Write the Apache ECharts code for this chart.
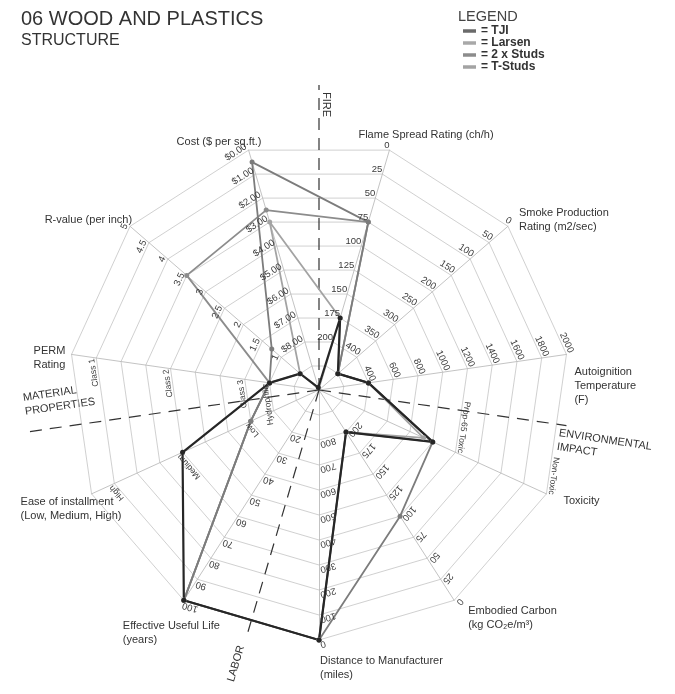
<!DOCTYPE html>
<html>
<head>
<meta charset="utf-8">
<script src="https://cdn.jsdelivr.net/npm/echarts@6/dist/echarts.min.js"></script>
<style>
html, body { margin: 0; padding: 0; background: #fff; }
#chart { width: 675px; height: 694px; }
</style>
</head>
<body>
<div id="chart"></div>
<script>
// axes in radar order (first one at the bottom, then counter-clockwise)
var axisNames = [
	'Distance to Manufacturer\n(miles)',
	'Embodied Carbon\n(kg CO\u2082e/m\u00b3)',
	'Toxicity',
	'Autoignition\nTemperature\n(F)',
	'Smoke Production\nRating (m2/sec)',
	'Flame Spread Rating (ch/h)',
	'Cost ($ per sq.ft.)',
	'R-value (per inch)',
	'PERM\nRating',
	'Ease of installment\n(Low, Medium, High)',
	'Effective Useful Life\n(years)'
];
// value on the outer ring and value at the centre of each axis
var axisOuter = [0, 0, 10, 2000, 0, 0, 0, 5, 10, 10, 100];
var axisCenter = [1000, 250, 0, 0, 500, 250, 10, 0, 0, 0, 0];

// tick labels, outer ring first (rings 1.0, 0.9 ... 0.2)
var distanceTicks = ['0', '100', '200', '300', '400', '500', '600', '700', '800'];
var carbonTicks = ['0', '25', '50', '75', '100', '125', '150', '175', '200'];
var toxicityTicks = ['Non-Toxic', '', '', '', 'Prop-65 Toxic', '', '', '', ''];
var autoignitionTicks = ['2000', '1800', '1600', '1400', '1200', '1000', '800', '600', '400'];
var smokeTicks = ['0', '50', '100', '150', '200', '250', '300', '350', '400'];
var flameTicks = ['0', '25', '50', '75', '100', '125', '150', '175', '200'];
var costTicks = ['$0.00', '$1.00', '$2.00', '$3.00', '$4.00', '$5.00', '$6.00', '$7.00', '$8.00'];
var rvalueTicks = ['5', '4.5', '4', '3.5', '3', '2.5', '2', '1.5', '1'];
var permTicks = ['', 'Class 1', '', '', 'Class 2', '', '', 'Class 3', 'Hydrophilic'];
var easeTicks = ['', 'High', '', '', 'Medium', '', '', 'Low', ''];
var lifeTicks = ['100', '90', '80', '70', '60', '50', '40', '30', '20'];
var tickLabels = [distanceTicks, carbonTicks, toxicityTicks, autoignitionTicks, smokeTicks,
	flameTicks, costTicks, rvalueTicks, permTicks, easeTicks, lifeTicks];

// series values (toxicity / perm / ease as scores on their 0-10 rings)
var tjiValues = [0, 200, 5, 400, 450, 175, 9.9, 0.5, 2, 6, 100];
var larsenValues = [0, 100, 5, 400, 450, 75, 0.5, 1.25, 2, 3, 100];
var twoStudsValues = [0, 200, 5, 400, 450, 75, 2.5, 3.5, 2, 3, 100];
var tStudsValues = [0, 200, 4.6, 400, 450, 175, 3.0, 0.5, 2, 3, 100];

var cx = 319, cy = 390, R = 250, n = axisNames.length;
var half = 180 / n;

function toLevel(vals) {
	return vals.map(function (v, i) {
		return (v - axisCenter[i]) / (axisOuter[i] - axisCenter[i]);
	});
}
function axisDir(i) {
	var a = (270 + i * 360 / n) * Math.PI / 180;
	return [Math.cos(a), -Math.sin(a)];
}

var chart = echarts.init(document.getElementById('chart'));
var font = '"Liberation Sans", Arial, sans-serif';
var graphics = [];

// tick labels along each axis
for (var i = 0; i < n; i++) {
	var d = axisDir(i);
	var psi = Math.atan2(d[1], d[0]) * 180 / Math.PI;
	var phi = psi + 90 - half;
	for (var k = 0; k < 9; k++) {
		var txt = tickLabels[i][k];
		if (!txt) continue;
		var lvl = 1 - k * 0.1;
		var isCat = isNaN(parseFloat(txt.replace('$', '')));
		graphics.push({
			type: 'text',
			x: cx + d[0] * R * lvl,
			y: cy + d[1] * R * lvl,
			rotation: -phi * Math.PI / 180,
			z: 5,
			style: {
				text: txt, align: 'right', verticalAlign: 'bottom',
				fontSize: isCat ? 8.5 : 9.5, fontFamily: font, fill: '#3a3a3a'
			}
		});
	}
}

// axis names: [dx, dy, align] from the outer end of each axis
var nameLayout = [[1, 14, 'left'], [14, 4, 'left'], [17, 0, 'left'], [8, 11, 'left'], [11, -20, 'left'],
	[-31, -22, 'left'], [-72, -15, 'left'], [2, -13, 'right'], [-38, -10, 'left'], [-71, 1, 'left'], [-61, 19, 'left']];
for (var j = 0; j < n; j++) {
	var e = axisDir(j);
	graphics.push({
		type: 'text',
		x: cx + e[0] * R + nameLayout[j][0],
		y: cy + e[1] * R + nameLayout[j][1],
		style: {
			text: axisNames[j], align: nameLayout[j][2], verticalAlign: 'top',
			fontSize: 11, lineHeight: 14, fontFamily: font, fill: '#333'
		}
	});
}

// dashed group dividers (bisectors between axes, angle clockwise from up)
function divider(angleFromUp, len) {
	var a = angleFromUp * Math.PI / 180;
	return {
		type: 'line', z: 1,
		shape: { x1: cx, y1: cy, x2: cx + Math.sin(a) * len, y2: cy - Math.cos(a) * len },
		style: { stroke: '#333', lineWidth: 1.2, lineDash: [12, 8] }
	};
}
graphics.push(divider(0, 305), divider(180 + half, 255),
	divider(90 + half * 0.5, 250), divider(270 - half * 0.5, 300));

var labelStyle = { fontSize: 11, fontFamily: font, fill: '#333' };
graphics.push(
	{ type: 'text', x: 321, y: 92, rotation: -Math.PI / 2, style: echarts.util.extend({ text: 'FIRE', verticalAlign: 'bottom' }, labelStyle) },
	{ type: 'text', x: 22, y: 391, rotation: 0.143, style: echarts.util.extend({ text: 'MATERIAL\nPROPERTIES', lineHeight: 14 }, labelStyle) },
	{ type: 'text', x: 560, y: 426, rotation: -0.15, style: echarts.util.extend({ text: 'ENVIRONMENTAL\nIMPACT', lineHeight: 14 }, labelStyle) },
	{ type: 'text', x: 236, y: 683, rotation: 1.285, style: echarts.util.extend({ text: 'LABOR', verticalAlign: 'bottom' }, labelStyle) },
	{ type: 'text', x: 458, y: 9, style: { text: 'LEGEND', fontSize: 14.5, fontFamily: font, fill: '#444' } }
);

var indicators = axisNames.map(function (nm) {
	return { name: nm, min: 0, max: 1 };
});

function makeSeries(name, vals, color, width) {
	return {
		type: 'radar',
		name: name,
		symbol: 'circle',
		symbolSize: 5,
		itemStyle: { color: color },
		lineStyle: { color: color, width: width },
		data: [{ name: name, value: toLevel(vals) }]
	};
}

var option = {
	backgroundColor: '#fff',
	animation: false,
	title: {
		text: '06 WOOD AND PLASTICS',
		subtext: 'STRUCTURE',
		left: 16, top: 4, itemGap: 4,
		textStyle: { fontSize: 20, fontWeight: 'normal', color: '#333', fontFamily: font },
		subtextStyle: { fontSize: 16, color: '#333', fontFamily: font }
	},
	legend: {
		orient: 'vertical',
		left: 458, top: 20,
		itemWidth: 13, itemHeight: 3.5, itemGap: 0,
		icon: 'rect',
		formatter: '= {name}',
		textStyle: { fontSize: 12, fontWeight: 'bold', color: '#333', fontFamily: font, lineHeight: 11 },
		data: [
			{ name: 'TJI', itemStyle: { color: '#6a6a6a' } },
			{ name: 'Larsen', itemStyle: { color: '#a8a8a8' } },
			{ name: '2 x Studs', itemStyle: { color: '#8c8c8c' } },
			{ name: 'T-Studs', itemStyle: { color: '#a3a3a3' } }
		]
	},
	radar: {
		center: [cx, cy],
		radius: R,
		startAngle: 270,
		splitNumber: 10,
		shape: 'polygon',
		indicator: indicators,
		axisName: { show: false },
		axisLabel: { show: false },
		splitArea: { show: false },
		splitLine: { lineStyle: { color: '#c4c4c4', width: 0.8 } },
		axisLine: { lineStyle: { color: '#b4b4b4', width: 0.8 } },
		axisTick: { show: false }
	},
	graphic: graphics,
	series: [
		makeSeries('T-Studs', tStudsValues, '#a3a3a3', 1.8),
		makeSeries('2 x Studs', twoStudsValues, '#8c8c8c', 1.8),
		makeSeries('Larsen', larsenValues, '#7c7c7c', 1.8),
		makeSeries('TJI', tjiValues, '#262626', 2.2)
	]
};
chart.setOption(option);
</script>
</body>
</html>
